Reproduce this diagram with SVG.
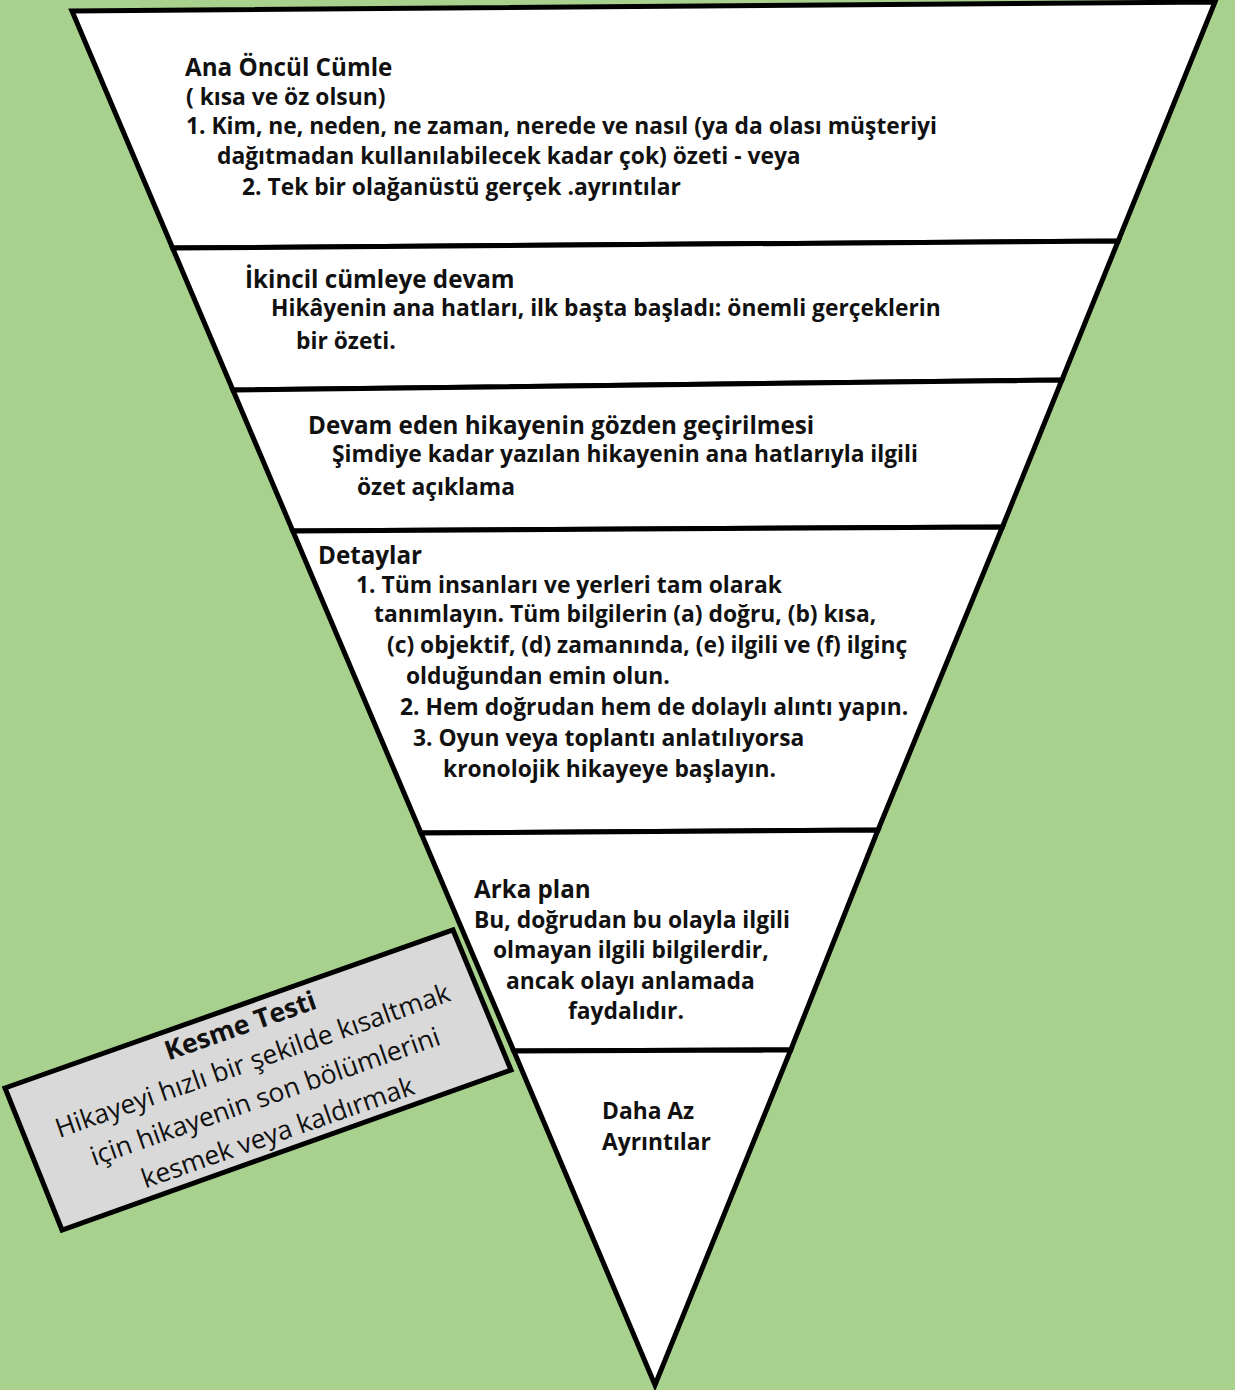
<svg xmlns="http://www.w3.org/2000/svg" width="1235" height="1390" viewBox="0 0 1235 1390">
<style>
.band{fill:#ffffff;stroke:#000;stroke-width:5;stroke-linejoin:miter}
.t{font-family:"Open Sans","Noto Sans","Liberation Sans",sans-serif;font-weight:700;fill:#111;font-size:22.8px}
.h{font-size:24.2px}
.bx{fill:#d9d9d9;stroke:#000;stroke-width:5}
.b{font-family:"Open Sans","Noto Sans","Liberation Sans",sans-serif;fill:#111;font-size:26.5px;text-anchor:middle}
</style>
<rect width="1235" height="1390" fill="#a9d18e"/>
<g id="band1">
<polygon class="band" points="72,11 1215,2 1118.2,241 172.6,248"/>
<text class="t h" x="185" y="76">Ana Öncül Cümle</text>
<text class="t" x="186" y="105">( kısa ve öz olsun)</text>
<text class="t" x="186" y="134">1. Kim, ne, neden, ne zaman, nerede ve nasıl (ya da olası müşteriyi</text>
<text class="t" x="217" y="164">dağıtmadan kullanılabilecek kadar çok) özeti - veya</text>
<text class="t" x="242" y="195">2. Tek bir olağanüstü gerçek .ayrıntılar</text>
</g>
<g id="band2">
<polygon class="band" points="172.6,248 1118.2,241 1061.9,380 232.9,390"/>
<text class="t h" x="245" y="288">İkincil cümleye devam</text>
<text class="t" x="271" y="316">Hikâyenin ana hatları, ilk başta başladı: önemli gerçeklerin</text>
<text class="t" x="296" y="349">bir özeti.</text>
</g>
<g id="band3">
<polygon class="band" points="232.9,390 1061.9,380 1002.4,527 292.8,531"/>
<text class="t h" x="308" y="434">Devam eden hikayenin gözden geçirilmesi</text>
<text class="t" x="332" y="462">Şimdiye kadar yazılan hikayenin ana hatlarıyla ilgili</text>
<text class="t" x="357" y="495">özet açıklama</text>
</g>
<g id="band4">
<polygon class="band" points="292.8,531 1002.4,527 878,830 421,833"/>
<text class="t h" x="318" y="564">Detaylar</text>
<text class="t" x="356" y="593">1. Tüm insanları ve yerleri tam olarak</text>
<text class="t" x="374" y="622">tanımlayın. Tüm bilgilerin (a) doğru, (b) kısa,</text>
<text class="t" x="387" y="653">(c) objektif, (d) zamanında, (e) ilgili ve (f) ilginç</text>
<text class="t" x="406" y="684">olduğundan emin olun.</text>
<text class="t" x="400" y="715">2. Hem doğrudan hem de dolaylı alıntı yapın.</text>
<text class="t" x="413" y="746">3. Oyun veya toplantı anlatılıyorsa</text>
<text class="t" x="443" y="777">kronolojik hikayeye başlayın.</text>
</g>
<g id="band5">
<polygon class="band" points="421,833 878,830 790.7,1050 513.8,1051"/>
<text class="t h" x="474" y="898">Arka plan</text>
<text class="t" x="474" y="928">Bu, doğrudan bu olayla ilgili</text>
<text class="t" x="493" y="958">olmayan ilgili bilgilerdir,</text>
<text class="t" x="506" y="989">ancak olayı anlamada</text>
<text class="t" x="568" y="1019">faydalıdır.</text>
</g>
<g id="band6">
<polygon class="band" points="513.8,1051 790.7,1050 655,1385"/>
<text class="t" x="602" y="1119">Daha Az</text>
<text class="t" x="602" y="1150">Ayrıntılar</text>
</g>
<g id="kesme">
<polygon class="bx" points="5,1088 453,930 511,1070 62,1230"/>
<g transform="translate(5,1086) rotate(-19.3)">
<text class="b" x="242" y="30" font-weight="700">Kesme Testi</text>
<text class="b" x="242" y="67">Hikayeyi hızlı bir şekilde kısaltmak</text>
<text class="b" x="242" y="105">için hikayenin son bölümlerini</text>
<text class="b" x="242" y="143">kesmek veya kaldırmak</text>
</g>
</g>
<g id="connectors"></g>
</svg>
